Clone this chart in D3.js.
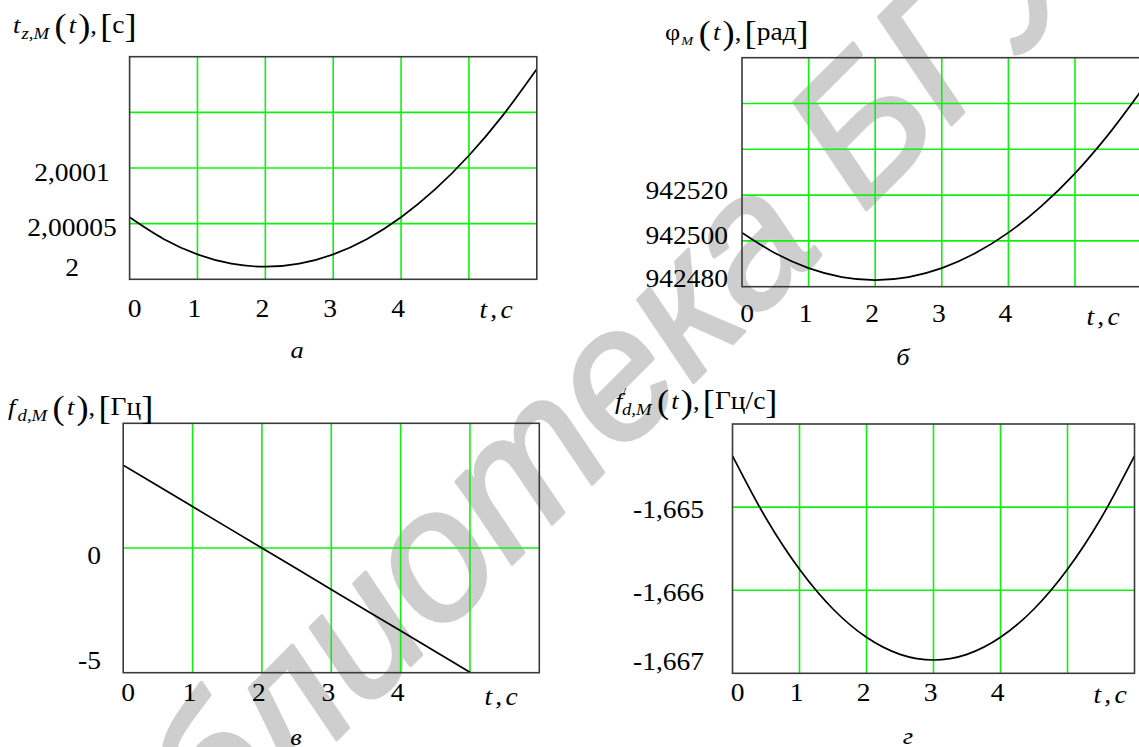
<!DOCTYPE html>
<html>
<head>
<meta charset="utf-8" />
<style>
  html, body {
    margin: 0;
    padding: 0;
    background: #fff;
  }
  .frame {
    fill: none;
    stroke: #3a3a3a;
    stroke-width: 1.6px;
  }
  .grid {
    stroke: #10f010;
    stroke-width: 1.6px;
  }
  .curve {
    fill: none;
    stroke: #000;
    stroke-width: 1.7px;
  }
</style>
</head>
<body>
<div id="vis"></div>
<script src="https://d3js.org/d3.v7.min.js"></script>
<script>
(function() {
  // ** DATA **

  // time samples, s
  var tHalf = [0, 0.5, 1, 1.5, 2, 2.5, 3, 3.5, 4, 4.5, 5, 5.5, 6];
  var tWhole = [0, 1, 2, 3, 4, 5, 6];

  // а: t_z,M(t), [c]
  var tzValues = [2.0000557, 2.0000363, 2.0000224, 2.0000141, 2.0000113, 2.0000141, 2.0000224,
                  2.0000363, 2.0000557, 2.0000807, 2.0001112, 2.0001473, 2.0001889];
  // б: phi_M(t), [рад]
  var phiValues = [942503.6, 942494.6, 942488.1, 942484.2, 942482.9, 942484.2, 942488.1,
                   942494.6, 942503.6, 942515.3, 942529.5, 942546.4, 942565.8];
  // в: f_d,M(t), [Гц]
  var fdValues = [3.32, 1.66, 0, -1.66, -3.32, -4.98, -6.64];
  // г: f'_d,M(t), [Гц/с]
  var fdRateValues = [-1.664383, -1.665134, -1.665748, -1.666226, -1.666567, -1.666772, -1.66684,
                      -1.666772, -1.666567, -1.666226, -1.665748, -1.665134, -1.664383];

  // ticks and grid
  var xTicks = [0, 1, 2, 3, 4];
  var xGrid = [1, 2, 3, 4, 5];
  var tzTicks = [2, 2.00005, 2.0001];
  var tzGrid = [2.00005, 2.0001, 2.00015];
  var phiTicks = [942480, 942500, 942520];
  var phiGrid = [942500, 942520, 942540, 942560];
  var fdTicks = [-5, 0];
  var fdGrid = [0];
  var fdRateTicks = [-1.667, -1.666, -1.665];
  var fdRateGrid = [-1.666, -1.665];

  var captions = ["а", "б", "в", "г"];

  // ** SETUP **

  var W = 1139, H = 747, SX = 1.1;
  var SERIF = "'Liberation Serif', 'Times New Roman', Times, serif";

  var svg = d3.select("#vis").append("svg")
    .attr("width", W).attr("height", H);

  // watermark sits under everything
  svg.append("text")
    .attr("transform", "translate(62,1014) rotate(-45)")
    .attr("font-family", "'Liberation Sans', Arial, sans-serif")
    .attr("font-style", "italic")
    .attr("font-size", 185)
    .attr("fill", "#cecece")
    .attr("stroke", "#cecece")
    .attr("stroke-width", 3.5)
    .attr("stroke-linejoin", "round")
    .text("Библиотека БГУИР");

  function put(g, x, y, str, o) {
    o = o || {};
    return g.append("text")
      .attr("transform", "translate(" + x + "," + y + ") scale(" + SX + ",1)")
      .attr("text-anchor", o.anchor || "middle")
      .attr("dy", o.dy || null)
      .attr("font-family", SERIF)
      .attr("font-size", o.size || 25)
      .attr("font-style", o.italic ? "italic" : "normal")
      .attr("letter-spacing", o.spacing || null)
      .attr("fill", "#000")
      .text(str);
  }

  function title(g, x, y, parts) {
    var t = g.append("text")
      .attr("transform", "translate(" + x + "," + y + ") scale(" + SX + ",1)")
      .attr("font-family", SERIF)
      .attr("fill", "#000");
    var shift = 0;
    parts.forEach(function(p) {
      var s = p.shift || 0;
      t.append("tspan")
        .attr("dx", p.dx || 0)
        .attr("dy", s - shift)
        .attr("font-size", p.size || 24)
        .attr("font-style", p.it ? "italic" : "normal")
        .text(p.s);
      shift = s;
    });
  }

  function tail(unit) {
    return [
      {s: "(", size: 33, dx: 5, shift: 4},
      {s: "t", it: true, dx: 2},
      {s: ")", size: 33, dx: 2, shift: 4},
      {s: ","},
      {s: "[", size: 33, dx: 3, shift: 4},
      {s: unit, size: 25},
      {s: "]", size: 33, shift: 4}
    ];
  }

  var panels = [
    { x: [129.6, 536.8], y: [279.3, 56.7], yDomain: [2, 2.0002],
      t: tHalf, v: tzValues, grid: tzGrid, ticks: tzTicks,
      tickAnchor: "middle", tickX: 72, tickOff: 4, clampOff: 12,
      xBase: 317, tcEnd: 516, tcBase: 318,
      titleAt: [13, 33],
      title: [{s: "t", it: true}, {s: "z,M", it: true, size: 17, dx: 1, shift: 6}].concat(tail("c")),
      cap: [297, 358] },
    { x: [742, 1141.6], y: [286.7, 57.7], yDomain: [942480, 942580],
      t: tHalf, v: phiValues, grid: phiGrid, ticks: phiTicks,
      tickAnchor: "end", tickX: 728, tickOff: -5, clampOff: 8,
      xBase: 322, tcEnd: 1123, tcBase: 325,
      titleAt: [665, 40],
      title: [{s: "φ"}, {s: "M", it: true, size: 13, dx: 1, shift: 5}].concat(tail("рад")),
      cap: [903, 365] },
    { x: [123.2, 539.3], y: [672.7, 423.3], yDomain: [-5, 5],
      t: tWhole, v: fdValues, grid: fdGrid, ticks: fdTicks,
      tickAnchor: "end", tickX: 101, tickOff: 7, clampOff: 12,
      xBase: 701, tcEnd: 521, tcBase: 705,
      titleAt: [8, 415],
      title: [{s: "f", it: true}, {s: "d,M", it: true, size: 17, dx: 2, shift: 6}].concat(tail("Гц")),
      cap: [296, 745] },
    { x: [732.5, 1134.5], y: [673.3, 424], yDomain: [-1.667, -1.664],
      t: tHalf, v: fdRateValues, grid: fdRateGrid, ticks: fdRateTicks,
      tickAnchor: "end", tickX: 704, tickOff: 2.5, clampOff: 12,
      xBase: 701, tcEnd: 1130, tcBase: 703,
      titleAt: [615, 409],
      title: [{s: "f", it: true}, {s: "/", size: 13, dx: 0, shift: -13},
              {s: "d,M", it: true, size: 17, dx: -4, shift: 6}].concat(tail("Гц/с")),
      cap: [908, 744] }
  ];

  // ** PANELS **

  panels.forEach(function(p, i) {
    var g = svg.append("g");
    var x = d3.scaleLinear().domain([0, 6]).range(p.x);
    var y = d3.scaleLinear().domain(p.yDomain).range(p.y);
    var left = p.x[0], right = p.x[1], top = p.y[1], bottom = p.y[0];

    var clipId = "clip" + i;
    g.append("clipPath").attr("id", clipId)
      .append("rect").attr("x", left).attr("y", top)
      .attr("width", right - left).attr("height", bottom - top);

    // grid
    g.selectAll(".gv").data(xGrid).enter().append("line").attr("class", "grid")
      .attr("x1", function(d) { return x(d); }).attr("x2", function(d) { return x(d); })
      .attr("y1", top).attr("y2", bottom);
    g.selectAll(".gh").data(p.grid).enter().append("line").attr("class", "grid")
      .attr("x1", left).attr("x2", right)
      .attr("y1", function(d) { return y(d); }).attr("y2", function(d) { return y(d); });

    // curve
    var line = d3.line()
      .x(function(d, j) { return x(p.t[j]); })
      .y(function(d) { return y(d); })
      .curve(d3.curveMonotoneX);
    g.append("path").attr("class", "curve")
      .attr("clip-path", "url(#" + clipId + ")")
      .attr("d", line(p.v));

    // frame
    g.append("rect").attr("class", "frame")
      .attr("x", left).attr("y", top)
      .attr("width", right - left).attr("height", bottom - top);

    // y tick labels
    p.ticks.forEach(function(v) {
      var cy = Math.min(y(v) + p.tickOff, bottom - p.clampOff);
      put(g, p.tickX, cy, String(v).replace(".", ","), {anchor: p.tickAnchor, dy: "0.34em"});
    });

    // x tick labels
    xTicks.forEach(function(v, j) {
      put(g, x(v) + (j === 0 ? 5 : -3), p.xBase, String(v));
    });
    put(g, p.tcEnd, p.tcBase, "t,c", {anchor: "end", italic: true, spacing: 3});

    // title and caption
    title(g, p.titleAt[0], p.titleAt[1], p.title);
    put(g, p.cap[0], p.cap[1], captions[i], {italic: true, size: 24});
  });
})();
</script>
</body>
</html>
